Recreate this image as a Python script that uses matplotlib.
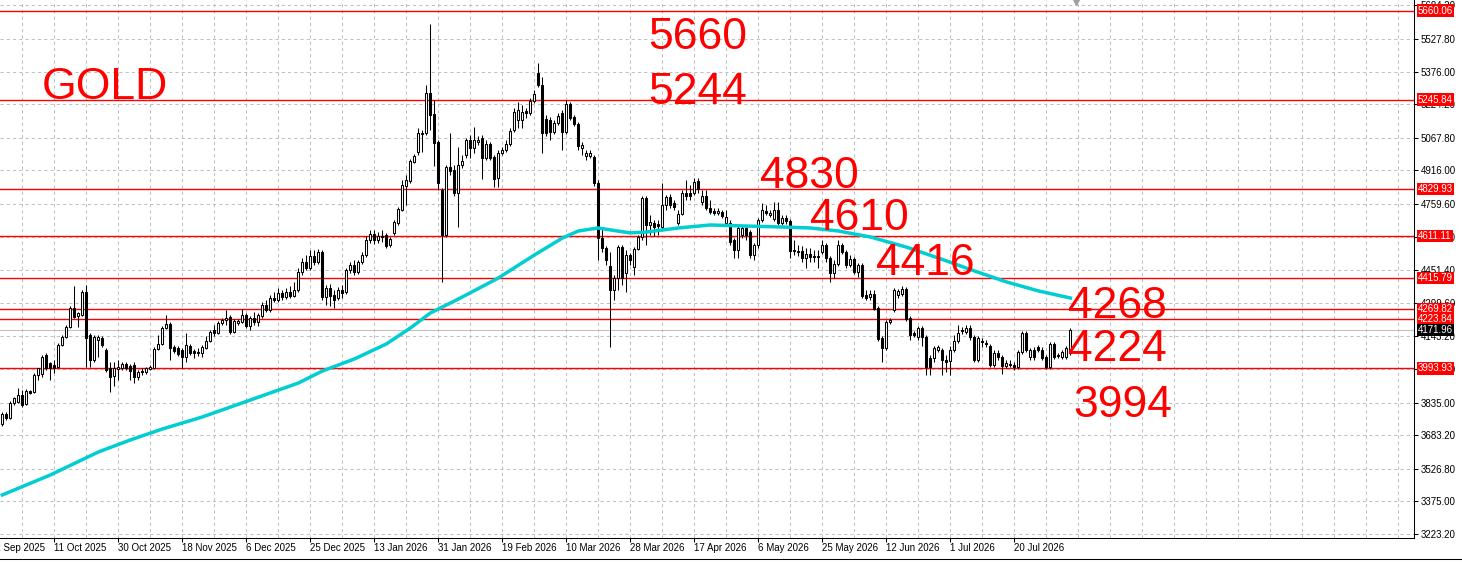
import numpy as np
import matplotlib.pyplot as plt
from matplotlib.lines import Line2D
from matplotlib.transforms import offset_copy

plt.rcParams['font.family'] = ['Liberation Sans', 'DejaVu Sans']

# daily candles (price units)
opens = [
    3735, 3782, 3763, 3833, 3838, 3870, 3828, 3889, 3884, 3963,
    3968, 4057, 4019, 4010, 4001, 4103, 4140, 4187, 4275, 4238,
    4243, 4350, 4150, 4033, 4126, 4136, 4080, 3996, 3959, 3991,
    3996, 4015, 4005, 4010, 3954, 3982, 3978, 3991, 3996, 4085,
    4108, 4182, 4201, 4094, 4089, 4080, 4047, 4099, 4075, 4066,
    4066, 4089, 4122, 4173, 4159, 4206, 4220, 4234, 4164, 4206,
    4210, 4243, 4192, 4229, 4210, 4238, 4289, 4266, 4322, 4313,
    4345, 4327, 4350, 4331, 4359, 4443, 4490, 4462, 4518, 4490,
    4536, 4327, 4369, 4336, 4322, 4359, 4350, 4452, 4476, 4443,
    4490, 4522, 4592, 4620, 4592, 4611, 4615, 4569, 4625, 4671,
    4732, 4843, 4867, 4955, 5002, 5085, 5090, 5276, 5179, 5048,
    4825, 4615, 4932, 4918, 4811, 4941, 4988, 5058, 5020, 5048,
    5067, 4974, 5039, 4978, 4881, 4997, 5011, 5039, 5104, 5151,
    5151, 5193, 5183, 5239, 5369, 5314, 5155, 5151, 5095, 5137,
    5183, 5095, 5225, 5165, 5132, 5020, 4983, 4983, 4978, 4857,
    4601, 4555, 4471, 4359, 4415, 4559, 4438, 4522, 4466, 4550,
    4606, 4788, 4662, 4671, 4667, 4653, 4755, 4792, 4764, 4671,
    4713, 4811, 4811, 4811, 4867, 4769, 4797, 4741, 4727, 4718,
    4722, 4671, 4671, 4592, 4545, 4615, 4648, 4629, 4522, 4569,
    4685, 4727, 4708, 4690, 4732, 4671, 4694, 4680, 4545, 4541,
    4541, 4508, 4527, 4518, 4518, 4536, 4569, 4508, 4438, 4480,
    4569, 4536, 4476, 4504, 4443, 4476, 4336, 4327, 4341, 4275,
    4136, 4089, 4210, 4266, 4336, 4341, 4364, 4229, 4159, 4140,
    4182, 4140, 4043, 4043, 4080, 4080, 4033, 4029, 4080, 4122,
    4173, 4164, 4182, 4140, 4033, 4122, 4112, 4099, 4010, 4066,
    4047, 4005, 4015, 4010, 4001, 4071, 4159, 4047, 4080, 4094,
    4080, 4047, 4001, 4108, 4057, 4047, 4047, 4066,
]
closes = [
    3782, 3763, 3833, 3856, 3870, 3824, 3889, 3880, 3963, 3996,
    4047, 3996, 3996, 3996, 4103, 4140, 4187, 4275, 4234, 4252,
    4350, 4136, 4033, 4140, 4140, 4103, 3987, 3954, 3996, 4001,
    4015, 3996, 3982, 3954, 3978, 3978, 3996, 4001, 4085, 4108,
    4182, 4201, 4089, 4075, 4061, 4047, 4103, 4066, 4066, 4071,
    4094, 4122, 4164, 4159, 4206, 4220, 4229, 4164, 4215, 4215,
    4243, 4192, 4229, 4210, 4243, 4289, 4266, 4322, 4313, 4345,
    4327, 4350, 4331, 4359, 4443, 4490, 4462, 4518, 4490, 4536,
    4327, 4369, 4331, 4313, 4359, 4345, 4452, 4476, 4443, 4490,
    4522, 4592, 4620, 4592, 4611, 4606, 4564, 4597, 4676, 4736,
    4848, 4871, 4960, 4983, 5090, 5090, 5276, 5174, 5044, 4857,
    4615, 4932, 4913, 4811, 4941, 4960, 5058, 5020, 5058, 5058,
    4974, 5039, 4974, 4876, 4997, 5011, 5039, 5099, 5188, 5197,
    5188, 5183, 5239, 5272, 5314, 5090, 5090, 5095, 5137, 5169,
    5095, 5225, 5160, 5132, 5030, 5034, 4997, 4997, 4857, 4601,
    4555, 4499, 4359, 4415, 4559, 4415, 4522, 4499, 4550, 4606,
    4788, 4662, 4676, 4653, 4657, 4755, 4792, 4755, 4746, 4713,
    4811, 4797, 4797, 4862, 4830, 4797, 4741, 4722, 4718, 4727,
    4704, 4699, 4583, 4545, 4648, 4648, 4615, 4522, 4569, 4685,
    4732, 4718, 4718, 4732, 4671, 4694, 4680, 4541, 4541, 4536,
    4508, 4527, 4513, 4513, 4513, 4569, 4508, 4438, 4480, 4569,
    4536, 4476, 4504, 4443, 4476, 4331, 4322, 4341, 4271, 4131,
    4089, 4210, 4220, 4359, 4355, 4364, 4224, 4150, 4150, 4182,
    4140, 4001, 4001, 4089, 4094, 4033, 4024, 4080, 4122, 4159,
    4168, 4182, 4140, 4033, 4136, 4117, 4108, 4010, 4066, 4047,
    4005, 4019, 4010, 4001, 4071, 4159, 4080, 4080, 4047, 4080,
    4043, 4001, 4108, 4047, 4052, 4071, 4089, 4172,
]
highs = [
    3791, 3791, 3842, 3861, 3903, 3894, 3898, 3894, 3973, 3996,
    4057, 4066, 4024, 4033, 4112, 4150, 4196, 4285, 4378, 4257,
    4359, 4383, 4159, 4150, 4150, 4145, 4089, 4024, 4024, 4033,
    4024, 4024, 4015, 4024, 3987, 3996, 4001, 4010, 4094, 4150,
    4192, 4243, 4210, 4103, 4099, 4089, 4159, 4108, 4085, 4089,
    4103, 4145, 4173, 4196, 4215, 4229, 4266, 4243, 4224, 4224,
    4271, 4252, 4238, 4257, 4252, 4303, 4313, 4336, 4350, 4369,
    4359, 4369, 4378, 4397, 4462, 4508, 4522, 4545, 4545, 4550,
    4545, 4383, 4387, 4359, 4373, 4383, 4462, 4490, 4499, 4499,
    4536, 4611, 4639, 4639, 4629, 4639, 4625, 4606, 4685, 4746,
    4871, 4895, 4969, 4992, 5113, 5104, 5314, 5598, 5244, 5058,
    4834, 4941, 5090, 4941, 5025, 4988, 5067, 5081, 5118, 5076,
    5081, 5058, 5048, 4988, 5011, 5025, 5058, 5113, 5207, 5234,
    5220, 5207, 5253, 5290, 5416, 5351, 5174, 5165, 5151, 5183,
    5197, 5244, 5234, 5174, 5141, 5048, 5011, 5011, 4988, 4871,
    4648, 4564, 4536, 4429, 4569, 4569, 4545, 4531, 4559, 4615,
    4797, 4797, 4708, 4685, 4685, 4857, 4802, 4806, 4778, 4732,
    4825, 4871, 4848, 4881, 4881, 4825, 4825, 4778, 4741, 4741,
    4732, 4732, 4685, 4601, 4657, 4662, 4662, 4639, 4578, 4694,
    4764, 4755, 4732, 4769, 4769, 4708, 4708, 4690, 4592, 4569,
    4564, 4555, 4555, 4545, 4545, 4592, 4578, 4518, 4499, 4592,
    4578, 4545, 4522, 4513, 4485, 4485, 4359, 4359, 4359, 4285,
    4145, 4220, 4229, 4369, 4364, 4378, 4373, 4238, 4168, 4192,
    4192, 4150, 4057, 4099, 4103, 4089, 4057, 4099, 4150, 4196,
    4187, 4196, 4196, 4150, 4145, 4136, 4126, 4108, 4080, 4080,
    4057, 4033, 4033, 4024, 4080, 4168, 4168, 4089, 4094, 4103,
    4094, 4057, 4117, 4117, 4066, 4080, 4099, 4182,
]
lows = [
    3726, 3754, 3759, 3824, 3833, 3815, 3824, 3875, 3880, 3940,
    3954, 3987, 3940, 3973, 3996, 4099, 4136, 4182, 4229, 4187,
    4238, 4001, 4001, 4024, 4047, 4094, 3978, 3884, 3912, 3940,
    3987, 3987, 3940, 3926, 3940, 3963, 3968, 3987, 3991, 4080,
    4103, 4178, 4033, 4066, 4052, 3996, 4024, 4057, 4043, 4052,
    4047, 4085, 4117, 4145, 4154, 4196, 4196, 4154, 4159, 4196,
    4206, 4182, 4173, 4196, 4192, 4229, 4257, 4257, 4303, 4303,
    4313, 4317, 4322, 4327, 4350, 4429, 4452, 4452, 4476, 4480,
    4313, 4289, 4285, 4275, 4313, 4322, 4341, 4438, 4429, 4434,
    4480, 4513, 4578, 4573, 4578, 4583, 4555, 4559, 4615, 4662,
    4727, 4755, 4857, 4950, 4988, 5002, 5081, 5104, 4937, 4825,
    4397, 4606, 4895, 4797, 4653, 4927, 4974, 4974, 4997, 5034,
    4876, 4964, 4964, 4839, 4839, 4988, 5002, 5030, 5095, 5113,
    5113, 5160, 5174, 5230, 5304, 4997, 5076, 5058, 5085, 5127,
    5011, 5085, 5151, 5123, 5011, 4988, 4964, 4974, 4843, 4499,
    4536, 4476, 4094, 4313, 4359, 4383, 4350, 4476, 4429, 4545,
    4592, 4569, 4615, 4611, 4615, 4639, 4732, 4741, 4732, 4662,
    4708, 4778, 4778, 4802, 4811, 4755, 4732, 4713, 4708, 4708,
    4694, 4657, 4569, 4508, 4508, 4601, 4592, 4508, 4499, 4555,
    4676, 4708, 4699, 4680, 4662, 4662, 4667, 4508, 4522, 4518,
    4490, 4462, 4490, 4490, 4462, 4527, 4490, 4397, 4415, 4471,
    4527, 4462, 4466, 4434, 4420, 4322, 4313, 4313, 4266, 4122,
    4024, 4080, 4201, 4257, 4322, 4331, 4215, 4126, 4140, 4126,
    4099, 3963, 3963, 4024, 4071, 3963, 3978, 3963, 4071, 4112,
    4154, 4154, 4126, 4024, 4024, 4094, 4094, 4001, 4001, 4033,
    3968, 3996, 4001, 3987, 3991, 4061, 4071, 4033, 4033, 4071,
    4033, 3991, 3991, 4038, 4043, 4038, 4038, 4057,
]

# moving average, sampled at some bars
ma_bars = [0, 12, 24, 32, 40, 50, 62, 74, 80, 88, 96, 102, 107, 114, 124, 133,
           140, 144, 149, 152, 157, 161, 169, 177, 186, 194, 202, 209, 217, 226,
           234, 243, 251, 259, 267]
ma_vals = [3405, 3498, 3605, 3661, 3712, 3768, 3847, 3926, 3982, 4038, 4108,
           4182, 4252, 4317, 4415, 4522, 4601, 4634, 4648, 4639, 4625, 4629,
           4648, 4662, 4657, 4653, 4648, 4634, 4606, 4559, 4508, 4448, 4397,
           4355, 4322]

levels = [5660.06, 5245.84, 4829.93, 4611.11, 4415.79, 4269.82, 4223.84, 3993.93]
bid = 4171.96

price_ticks = [5684.20, 5527.80, 5376.00, 5224.20, 5067.80, 4916.00, 4759.60,
               4607.80, 4451.40, 4299.60, 4143.20, 3991.40, 3835.00, 3683.20,
               3526.80, 3375.00, 3223.20]
date_bars = [13, 29, 45, 61, 77, 93, 109, 125, 141, 157, 173, 189, 205, 221, 237, 253]
date_labels = ["11 Oct 2025", "30 Oct 2025", "18 Nov 2025", "6 Dec 2025",
               "25 Dec 2025", "13 Jan 2026", "31 Jan 2026", "19 Feb 2026",
               "10 Mar 2026", "28 Mar 2026", "17 Apr 2026", "6 May 2026",
               "25 May 2026", "12 Jun 2026", "1 Jul 2026", "20 Jul 2026"]
first_label = "22 Sep 2025"

# big red notes: text, left px, baseline px
notes = [("GOLD", 42, 99), ("5660", 648, 49), ("5244", 648, 104),
         ("4830", 760, 188), ("4610", 810, 230), ("4416", 876, 275),
         ("4268", 1068, 318), ("4224", 1068, 361), ("3994", 1073, 417)]

W, H = 1462, 562
fig = plt.figure(figsize=(W / 100, H / 100), dpi=100)
ax = fig.add_axes([0, (H - 538) / H, 1414 / W, 538 / H])

o = np.array(opens, float)
c = np.array(closes, float)
hi = np.array(highs, float)
lo = np.array(lows, float)
x = np.arange(len(c))
up = c >= o

ax.vlines(x, lo, hi, color='black', lw=0.75, zorder=3)
ax.bar(x[up], (c - o)[up], bottom=o[up], width=0.55, color='white',
       edgecolor='black', lw=0.75, zorder=4)
ax.bar(x[~up], (o - c)[~up], bottom=c[~up], width=0.55, color='black',
       edgecolor='black', lw=0.75, zorder=4)

ax.plot(ma_bars, ma_vals, color='#00CED1', lw=2.5, zorder=5)

for lv in levels:
    ax.axhline(lv, color='red', lw=1.0, zorder=2)
ax.axhline(bid, color='#C0C0C0', lw=0.75, zorder=1.5)

# grid
for gx in np.arange(5, 353, 8):
    ax.axvline(gx, color='#C0C0C0', lw=0.75, ls=(0, (3, 3)), zorder=0)
for gy in price_ticks:
    ax.axhline(gy, color='#C0C0C0', lw=0.75, ls=(0, (3, 3)), zorder=0)

ax.set_xlim(-0.575, 352.9)
ax.set_ylim(3204.6, 5709.4)

ax.spines['top'].set_visible(False)
ax.spines['left'].set_visible(False)
ax.spines['right'].set_linewidth(0.75)
ax.spines['bottom'].set_linewidth(0.75)

ax.yaxis.tick_right()
ax.set_yticks(price_ticks)
ax.set_yticklabels([f"{v:.2f}" for v in price_ticks])
ax.tick_params(axis='y', length=3, width=0.75, pad=2, labelsize=7)
ax.set_xticks(date_bars)
ax.set_xticklabels(date_labels, ha='left')
ax.tick_params(axis='x', length=3, width=0.75, pad=0.5, labelsize=7)

ax.text(-3, -0.009, first_label, transform=ax.get_xaxis_transform(),
        fontsize=7, ha='left', va='top')

# price boxes on the right scale
tr = offset_copy(ax.get_yaxis_transform(), fig=fig, x=4, y=0, units='dots')
for lv in levels:
    ax.text(1.0, lv, f"{lv:.2f}", transform=tr, fontsize=7, color='white',
            ha='left', va='center', zorder=10,
            bbox=dict(boxstyle='square,pad=0.12', fc='red', ec='none'))
ax.text(1.0, bid, f"{bid:.2f}", transform=tr, fontsize=7, color='white',
        ha='left', va='center', zorder=10,
        bbox=dict(boxstyle='square,pad=0.12', fc='black', ec='none'))

ax.plot([268.5], [5702], marker='v', ms=5, color='#A0A0A0', clip_on=False, zorder=6)

for txt, px, py in notes:
    fig.text(px / W, 1 - py / H, txt, color='red', fontsize=32,
             ha='left', va='baseline')

fig.add_artist(Line2D([0, 1], [1 - 559 / H] * 2, color='black', lw=0.75))

fig.savefig('out.png', dpi=100)
